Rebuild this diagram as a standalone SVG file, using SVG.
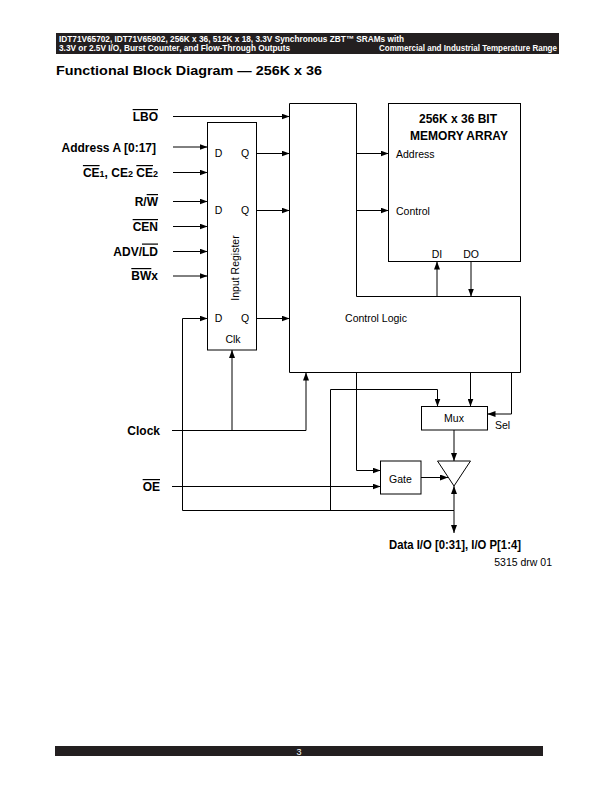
<svg xmlns="http://www.w3.org/2000/svg" width="612" height="792" viewBox="0 0 612 792">
<defs>
<marker id="ah" viewBox="0 0 8 6" refX="8" refY="3" markerWidth="8" markerHeight="6" markerUnits="userSpaceOnUse" orient="auto">
<path d="M0,0 L8,3 L0,6 z" fill="#000"/>
</marker>
<style>
.ln{fill:none;stroke:#000;stroke-width:1}
.ar{fill:none;stroke:#000;stroke-width:1;marker-end:url(#ah)}
.box{fill:#fff;stroke:#000;stroke-width:1}
.lb{font-family:"Liberation Sans",Arial,sans-serif;font-weight:bold;font-size:12px;fill:#000}
.tx{font-family:"Liberation Sans",Arial,sans-serif;font-size:10.5px;fill:#000}
.sm{font-size:9px}
.ov{text-decoration:overline}
.hd{font-family:"Liberation Sans",Arial,sans-serif;font-weight:bold;font-size:9px;fill:#fff}
</style>
</defs>
<rect x="56" y="33" width="503" height="21" fill="#231f20"/>
<text class="hd" x="59" y="41.5" textLength="345" lengthAdjust="spacingAndGlyphs">IDT71V65702, IDT71V65902, 256K x 36, 512K x 18, 3.3V Synchronous ZBT™ SRAMs with</text>
<text class="hd" x="59" y="51" textLength="231" lengthAdjust="spacingAndGlyphs">3.3V or 2.5V I/O, Burst Counter, and Flow-Through Outputs</text>
<text class="hd" x="557" y="51" text-anchor="end" textLength="178" lengthAdjust="spacingAndGlyphs">Commercial and Industrial Temperature Range</text>
<text x="56" y="75" font-family="'Liberation Sans',Arial,sans-serif" font-weight="bold" font-size="13.5" textLength="266" lengthAdjust="spacingAndGlyphs" fill="#000">Functional Block Diagram — 256K x 36</text>

<g id="labels">
<text class="lb" x="158" y="121" text-anchor="end"><tspan class="ov">LBO</tspan></text>
<text class="lb" x="156" y="151.5" text-anchor="end">Address A [0:17]</text>
<text class="lb" x="158" y="177" text-anchor="end"><tspan class="ov">CE</tspan><tspan class="sm">1</tspan>, CE<tspan class="sm">2</tspan> <tspan class="ov">CE</tspan><tspan class="sm">2</tspan></text>
<text class="lb" x="158" y="206" text-anchor="end">R/<tspan class="ov">W</tspan></text>
<text class="lb" x="158" y="231" text-anchor="end"><tspan class="ov">CEN</tspan></text>
<text class="lb" x="158" y="255.5" text-anchor="end">ADV/<tspan class="ov">LD</tspan></text>
<text class="lb" x="158" y="280" text-anchor="end"><tspan class="ov">BW</tspan>x</text>
<text class="lb" x="160" y="434.5" text-anchor="end">Clock</text>
<text class="lb" x="160" y="491" text-anchor="end"><tspan class="ov">OE</tspan></text>
<text class="lb" x="389" y="549" textLength="132" lengthAdjust="spacingAndGlyphs">Data I/O [0:31], I/O P[1:4]</text>
<text class="tx" x="552" y="566" text-anchor="end" font-size="8.5">5315 drw 01</text>
</g>

<g id="input-register">
<rect class="box" x="207.5" y="122.5" width="49" height="227.5"/>
<text class="tx" x="218.5" y="157" text-anchor="middle">D</text>
<text class="tx" x="245" y="157" text-anchor="middle">Q</text>
<text class="tx" x="218.5" y="214" text-anchor="middle">D</text>
<text class="tx" x="245" y="214" text-anchor="middle">Q</text>
<text class="tx" x="218.5" y="322" text-anchor="middle">D</text>
<text class="tx" x="245" y="322" text-anchor="middle">Q</text>
<text class="tx" x="233" y="342.5" text-anchor="middle">Clk</text>
<text class="tx" x="0" y="0" text-anchor="middle" transform="translate(238.5,268) rotate(-90)">Input Register</text>
</g>

<g id="control-logic">
<path class="box" d="M289.5,103.5 L356.5,103.5 L356.5,296.5 L520.5,296.5 L520.5,372.5 L289.5,372.5 Z"/>
<text class="tx" x="376" y="322" text-anchor="middle">Control Logic</text>
</g>

<g id="memory-array">
<rect class="box" x="388.5" y="103.5" width="132" height="158"/>
<text class="lb" x="458" y="123" text-anchor="middle">256K x 36 BIT</text>
<text class="lb" x="459" y="140" text-anchor="middle">MEMORY ARRAY</text>
<text class="tx" x="396" y="157.5">Address</text>
<text class="tx" x="396" y="214.5">Control</text>
<text class="tx" x="437" y="257.5" text-anchor="middle">DI</text>
<text class="tx" x="471" y="257.5" text-anchor="middle">DO</text>
</g>

<g id="mux">
<rect class="box" x="421.5" y="406.5" width="66" height="23.5"/>
<text class="tx" x="454" y="422" text-anchor="middle">Mux</text>
<text class="tx" x="495" y="429">Sel</text>
</g>

<g id="gate">
<rect class="box" x="380.5" y="461" width="40.5" height="33"/>
<text class="tx" x="400.5" y="483" text-anchor="middle">Gate</text>
</g>

<g id="buffer">
<path class="box" d="M437.5,461 L470.5,461 L454,486 Z"/>
</g>

<g id="connectors">
<path class="ar" d="M173,116.5 L289.5,116.5"/>
<path class="ar" d="M173,147 L207.5,147"/>
<path class="ar" d="M173,172.5 L207.5,172.5"/>
<path class="ar" d="M173,201.5 L207.5,201.5"/>
<path class="ar" d="M173,226.5 L207.5,226.5"/>
<path class="ar" d="M173,251.5 L207.5,251.5"/>
<path class="ar" d="M173,276 L207.5,276"/>
<path class="ar" d="M256.5,153.5 L289.5,153.5"/>
<path class="ar" d="M256.5,210.5 L289.5,210.5"/>
<path class="ar" d="M256.5,318.5 L289.5,318.5"/>
<path class="ar" d="M356.5,153.5 L388.5,153.5"/>
<path class="ar" d="M356.5,210.5 L388.5,210.5"/>
<path class="ar" d="M437,296.5 L437,261.5"/>
<path class="ar" d="M471,261.5 L471,296.5"/>
<path class="ln" d="M172,430.5 L306,430.5"/>
<path class="ar" d="M306,430.5 L306,372.5"/>
<path class="ar" d="M232,430.5 L232,350"/>
<path class="ar" d="M182.5,510.5 L182.5,318.5 L207.5,318.5"/>
<path class="ln" d="M182.5,510.5 L454,510.5"/>
<path class="ar" d="M330.5,510.5 L330.5,389.5 L437.5,389.5 L437.5,406.5"/>
<path class="ar" d="M470.5,372.5 L470.5,406.5"/>
<path class="ar" d="M511.5,372.5 L511.5,414 L487.5,414"/>
<path class="ar" d="M454,430 L454,461"/>
<path class="ar" d="M356.5,372.5 L356.5,470.5 L380.5,470.5"/>
<path class="ar" d="M172,486.5 L380.5,486.5"/>
<path class="ar" d="M421,477.5 L448,477.5"/>
<path class="ar" d="M454,510.5 L454,486"/>
<path class="ar" d="M454,510.5 L454,533"/>
</g>

<rect x="55" y="746" width="488" height="10" fill="#231f20"/>
<text x="299" y="755" text-anchor="middle" font-family="'Liberation Sans',Arial,sans-serif" font-size="9" fill="#fff">3</text>
</svg>
